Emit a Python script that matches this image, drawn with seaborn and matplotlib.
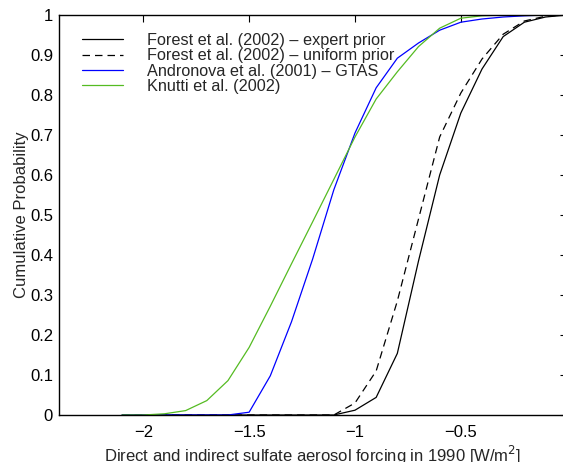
import matplotlib
matplotlib.use("Agg")
import matplotlib.pyplot as plt
import seaborn as sns
import pandas as pd

forcing = [-2.1, -2.0, -1.9, -1.8, -1.7, -1.6, -1.5, -1.4, -1.3, -1.2, -1.1,
           -1.0, -0.9, -0.8, -0.7, -0.6, -0.5, -0.4, -0.3, -0.2, -0.1, 0.0]

forest_expert = [0, 0, 0, 0, 0, 0, 0, 0, 0, 0, 0,
                 0.012, 0.044, 0.154, 0.385, 0.600, 0.755, 0.865, 0.946, 0.982, 0.995, 1.0]
forest_uniform = [0, 0, 0, 0, 0, 0, 0, 0, 0, 0, 0,
                  0.030, 0.110, 0.285, 0.490, 0.695, 0.805, 0.890, 0.952, 0.985, 0.997, 1.0]
andronova = [0, 0, 0, 0, 0, 0, 0.007, 0.098, 0.233, 0.390, 0.563,
             0.705, 0.818, 0.892, 0.930, 0.962, 0.982, 0.990, 0.995, 0.998, 1.0, 1.0]
knutti = [0, 0, 0.003, 0.011, 0.036, 0.086, 0.169, 0.272, 0.378, 0.483, 0.589,
          0.695, 0.790, 0.858, 0.921, 0.967, 0.992, 0.998, 1.0, 1.0, 1.0, 1.0]

labels = ["Forest et al. (2002) \u2013 expert prior",
          "Forest et al. (2002) \u2013 uniform prior",
          "Andronova et al. (2001) \u2013 GTAS",
          "Knutti et al. (2002)"]
colors = ["black", "black", "#0000ff", "#55bb22"]
styles = ["-", (0, (6, 4)), "-", "-"]

xticks = [-2, -1.5, -1, -0.5, 0]
xticklabels = ["\u22122", "\u22121.5", "\u22121", "\u22120.5", "0"]
yticks = [0, 0.1, 0.2, 0.3, 0.4, 0.5, 0.6, 0.7, 0.8, 0.9, 1.0]
yticklabels = ["0", "0.1", "0.2", "0.3", "0.4", "0.5", "0.6", "0.7", "0.8", "0.9", "1"]

sns.set_style("white")
plt.rcParams["font.family"] = ["Liberation Sans", "DejaVu Sans"]
plt.rcParams["font.size"] = 12

fig = plt.figure(figsize=(5.63, 4.62), dpi=100)
W, H = 563, 462
left_px, right_px, top_px, bot_px = 58.6, 566.7, 15, 415
ax = fig.add_axes([left_px / W, (H - bot_px) / H, (right_px - left_px) / W, (bot_px - top_px) / H])

series = [forest_expert, forest_uniform, andronova, knutti]
for vals, lab, col, ls in zip(series, labels, colors, styles):
    df = pd.DataFrame({"x": forcing, "y": vals})
    sns.lineplot(data=df, x="x", y="y", ax=ax, color=col, label=lab, linewidth=0.9)
    ax.lines[-1].set_linestyle(ls)

ax.set_xlim(-2.4, 0)
ax.set_ylim(0, 1)
ax.set_xticks(xticks)
ax.set_xticklabels(xticklabels)
ax.set_yticks(yticks)
ax.set_yticklabels(yticklabels)
ax.tick_params(direction="in", top=True, right=True, length=5, width=0.8,
               labelsize=12, colors="black")
ax.tick_params(axis="x", pad=7)
ax.tick_params(axis="y", pad=4)
for s in ax.spines.values():
    s.set_color("black")
    s.set_linewidth(1.0)

ax.set_xlabel("Direct and indirect sulfate aerosol forcing in 1990 [W/m$^2$]", fontsize=12, labelpad=3)
ax.set_ylabel("Cumulative Probability", fontsize=12, labelpad=1)

leg = ax.legend(loc="upper left", bbox_to_anchor=(0.046, 0.955), frameon=False,
                borderaxespad=0, borderpad=0, handlelength=2.5, handletextpad=1.5,
                labelspacing=0.02, fontsize=11.7)
for h in leg.get_lines():
    h.set_linewidth(0.9)
leg.get_lines()[1].set_linestyle((0, (6, 4)))

fig.savefig("out.png", dpi=100)
